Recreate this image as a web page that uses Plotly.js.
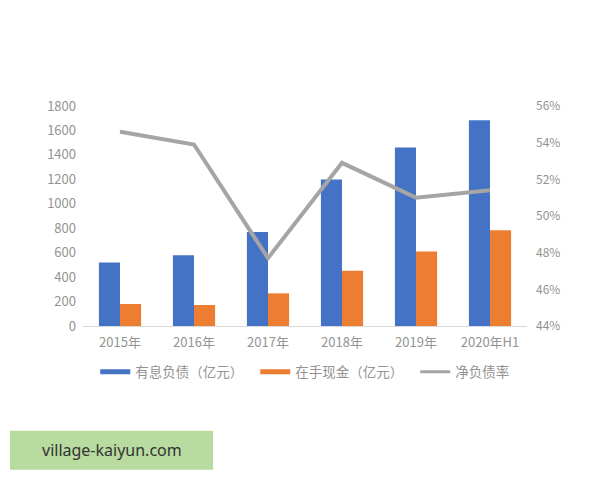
<!DOCTYPE html>
<html><head><meta charset="utf-8">
<script src="https://cdn.plot.ly/plotly-3.0.1.min.js"></script>
<style>html,body{margin:0;padding:0;background:#fff}#chart{width:600px;height:480px}</style>
</head><body><div id="chart"></div>
<script>
const categories = ['2015年','2016年','2017年','2018年','2019年','2020年H1'];
const debt = [520, 578, 770, 1198, 1460, 1683];
const cash = [180, 172, 267, 452, 610, 784];
const netDebtRatio = [54.6, 53.9, 47.7, 52.9, 51.0, 51.4];
const names = ['有息负债（亿元）','在手现金（亿元）','净负债率'];
const watermark = 'village-kaiyun.com';

const font = "'Noto Sans CJK SC', 'Noto Sans', sans-serif";
const gray = '#939393';
const blue = '#4472c4', orange = '#ed7d31', lineGray = '#a5a5a5';

const traces = [
  {type:'bar', x:categories, y:debt, name:names[0], marker:{color:blue}, showlegend:false},
  {type:'bar', x:categories, y:cash, name:names[1], marker:{color:orange}, showlegend:false},
  {type:'scatter', mode:'lines', x:categories, y:netDebtRatio, name:names[2], yaxis:'y2',
   line:{color:lineGray, width:4}, showlegend:false},
  {type:'scatter', mode:'lines', x:[null], y:[null], name:names[0], line:{color:blue, width:5}},
  {type:'scatter', mode:'lines', x:[null], y:[null], name:names[1], line:{color:orange, width:5}},
  {type:'scatter', mode:'lines', x:[null], y:[null], name:names[2], line:{color:lineGray, width:3}}
];

const layout = {
  width:600, height:480,
  margin:{l:83, r:73, t:106, b:154},
  paper_bgcolor:'#fff', plot_bgcolor:'#fff',
  font:{family:font, size:13, color:gray},
  barmode:'group', bargap:0.43, bargroupgap:0,
  xaxis:{type:'category', showline:true, linecolor:'#d9d9d9', linewidth:1, ticks:'',
         tickfont:{size:13, color:gray}, showgrid:false, zeroline:false, ticklabelstandoff:4},
  yaxis:{range:[0,1800], dtick:200, showgrid:false, zeroline:false, showline:false,
         tickfont:{size:13, color:gray}, ticklabelstandoff:6},
  yaxis2:{range:[44,56], dtick:2, ticksuffix:'%', overlaying:'y', side:'right',
          showgrid:false, zeroline:false, showline:false, tickfont:{size:12, color:gray}, ticklabelstandoff:8},
  legend:{orientation:'h', xref:'paper', yref:'paper', x:1.1087, xanchor:'right',
          y:-0.209, yanchor:'middle',
          font:{size:13.5, color:gray}, itemwidth:30, tracegroupgap:0,
          entrywidth:115, entrywidthmode:'pixels'},
  shapes:[{type:'rect', xref:'paper', yref:'paper', x0:-0.1644, x1:0.2928, y0:-0.4766, y1:-0.6537,
           fillcolor:'#b8dba0', line:{width:0}, layer:'below'}],
  annotations:[{xref:'paper', yref:'paper', x:0.0642, y:-0.565, xanchor:'center', yanchor:'middle',
                text:watermark, showarrow:false, font:{family:"'Noto Sans', sans-serif", size:16, color:'#333'}}]
};
Plotly.newPlot('chart', traces, layout, {displayModeBar:false, staticPlot:true});
</script></body></html>
